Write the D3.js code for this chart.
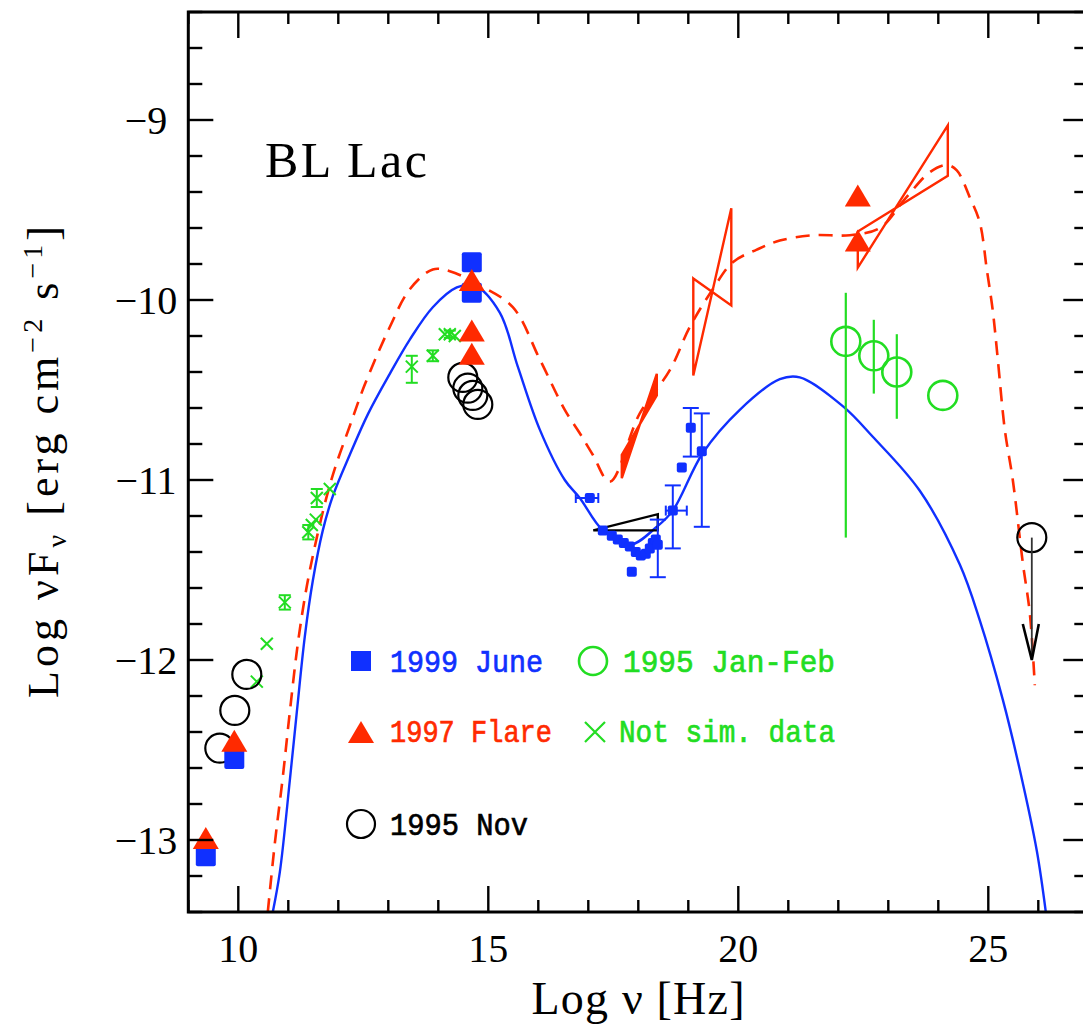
<!DOCTYPE html>
<html><head><meta charset="utf-8">
<script src="https://cdn.jsdelivr.net/npm/d3@7"></script>
<style>body{margin:0;background:#fff}</style>
</head><body>
<svg id="c" width="1083" height="1025"></svg>
<script>
// ---------- data ----------
const xDomain = [9, 27];
const yDomain = [-13.4, -8.4];
const xMajorTicks = [10, 15, 20, 25];
const xTickLabels = ["10", "15", "20", "25"];
const yMajorTicks = [-13, -12, -11, -10, -9];
const yTickLabels = ["\u221213", "\u221212", "\u221211", "\u221210", "\u22129"];

// model curves [log nu, log nuFnu]
const modelJune99 = [
  [10.69,-13.4],[10.83,-13.18],[11.03,-12.67],[11.17,-12.29],[11.33,-11.87],[11.49,-11.56],
  [11.69,-11.28],[11.89,-11.09],[12.23,-10.86],[12.6,-10.63],[13.03,-10.41],[13.43,-10.22],[13.89,-10.04],
  [14.37,-9.93],[14.73,-9.92],[15.23,-10.07],[15.59,-10.37],[16.03,-10.72],[16.53,-11.0],
  [16.83,-11.1],[17.29,-11.28],[17.83,-11.36],[18.37,-11.26],[18.69,-11.17],[19.29,-10.85],
  [20.03,-10.61],[20.83,-10.44],[21.23,-10.43],[22.09,-10.59],[22.69,-10.76],[23.63,-11.06],
  [24.43,-11.47],[24.83,-11.78],[25.29,-12.22],[25.63,-12.61],[25.97,-13.06],[26.15,-13.4]
];
const modelFlare97 = [
  [10.59,-13.4],[10.73,-13.02],[10.89,-12.65],[11.03,-12.29],[11.19,-11.91],[11.37,-11.59],
  [11.57,-11.32],[11.77,-11.09],[11.95,-10.92],[12.23,-10.7],[12.53,-10.47],[13.03,-10.15],
  [13.43,-9.94],[13.89,-9.83],[14.23,-9.84],[14.77,-9.91],[15.49,-10.04],[16.03,-10.33],
  [16.53,-10.61],[16.83,-10.74],[17.09,-10.86],[17.43,-11.01],[18.03,-10.63],[18.63,-10.39],
  [19.03,-10.15],[19.49,-9.94],[19.89,-9.79],[20.37,-9.72],[20.83,-9.67],[21.5,-9.64],
  [22.23,-9.64],[22.83,-9.6],[23.33,-9.44],[23.83,-9.29],[24.17,-9.25],[24.37,-9.28],
  [24.63,-9.43],[24.83,-9.57],[24.97,-9.83],[25.09,-10.06],[25.19,-10.33],[25.33,-10.72],
  [25.49,-11.0],[25.69,-11.46],[25.83,-11.74],[25.93,-12.14]
];

// 1999 June big points
const june99 = [[9.35,-13.09],[9.92,-12.55],[14.67,-9.79],[14.67,-9.96]];
// 1997 Flare
const flare97 = [[9.35,-13.0],[9.92,-12.46],[14.67,-9.9],[14.67,-10.18],[14.67,-10.31],[22.39,-9.43],[22.39,-9.68]];
// 1999 June X-ray points: [nu, f, xLo, xHi, yHi, yLo]
const june99Xray = [
  [17.03,-11.10,16.75,17.20,null,null],[17.29,-11.28,null,null,null,null],
  [17.47,-11.31,null,null,null,null],[17.59,-11.33,null,null,null,null],
  [17.71,-11.35,null,null,null,null],[17.83,-11.37,null,null,null,null],
  [17.95,-11.40,null,null,null,null],[18.05,-11.42,null,null,null,null],
  [18.15,-11.41,null,null,null,null],[18.23,-11.38,null,null,null,null],
  [18.29,-11.35,null,null,null,null],[18.35,-11.33,null,null,null,null],
  [18.39,-11.36,null,null,-11.22,-11.54],[17.87,-11.51,null,null,null,null],
  [18.69,-11.17,18.55,18.97,-11.03,-11.38],[18.87,-10.93,null,null,null,null],
  [19.05,-10.71,null,null,-10.60,-10.87],[19.27,-10.84,null,null,-10.63,-11.26]
];
// 1995 Nov
const nov95 = [[9.63,-12.49],[9.93,-12.28],[10.17,-12.08],[14.49,-10.43],[14.59,-10.49],[14.69,-10.53],[14.79,-10.58]];
const nov95Limit = [[25.87,-11.32,-12.0]];
// 1995 Jan-Feb: [nu, f, yHi, yLo]
const janFeb95 = [[22.15,-10.23,-9.96,-11.32],[22.71,-10.31,-10.11,-10.52],[23.17,-10.40,-10.19,-10.66],[24.09,-10.53,null,null]];
// Not simultaneous data: [nu, f, yHi, yLo]
const notSim = [
  [10.37,-12.12,null,null],[10.57,-11.91,null,null],[10.93,-11.68,-11.64,-11.72],
  [11.40,-11.29,-11.25,-11.33],[11.47,-11.25,null,null],[11.55,-11.22,null,null],
  [11.57,-11.10,-11.05,-11.15],[11.83,-11.05,null,null],[13.47,-10.37,-10.31,-10.46],
  [13.89,-10.31,-10.28,-10.34],[14.13,-10.19,null,null],[14.23,-10.19,-10.17,-10.21],[14.33,-10.20,null,null]
];
// bowties: [nu1, nu2, lineA at nu1, lineA at nu2, lineB at nu1, lineB at nu2]
const bowFlareOpt = [17.67, 18.37, -10.86, -10.53, -10.99, -10.41];
const bowFlareX = [19.10, 19.86, -9.88, -10.03, -10.42, -9.49];
const bowFlareGamma = [22.39, 24.19, -9.62, -9.31, -9.82, -9.03];
const bowNovX = [17.10, 18.39, -11.28, -11.19, -11.28, -11.28];

const legendLabels = ["1999 June", "1995 Jan-Feb", "1997 Flare", "Not sim. data", "1995 Nov"];

// ---------- drawing ----------
const BLUE = "#1030ff", RED = "#ff2a00", GREEN = "#22dd22";
const svg = d3.select("#c");
const x = d3.scaleLinear().domain(xDomain).range([188.3, 1088.3]);
const y = d3.scaleLinear().domain(yDomain).range([912, 12]);
const L = x(xDomain[0]), R = x(xDomain[1]), T = y(yDomain[1]), B = y(yDomain[0]);

svg.append("defs").append("clipPath").attr("id","clip")
  .append("rect").attr("x",L).attr("y",T).attr("width",R-L).attr("height",B-T);
const plot = svg.append("g").attr("clip-path","url(#clip)");

const line = d3.line().x(d=>x(d[0])).y(d=>y(d[1])).curve(d3.curveCatmullRom.alpha(0.5));

plot.append("path").attr("d", line(modelFlare97)).attr("fill","none")
  .attr("stroke",RED).attr("stroke-width",2.6).attr("stroke-dasharray","14,9");
plot.append("path").attr("d", line(modelJune99)).attr("fill","none")
  .attr("stroke",BLUE).attr("stroke-width",2.4);

function bowtie(b, color, fill){
  const pts = [[b[0],b[2]],[b[1],b[3]],[b[1],b[5]],[b[0],b[4]]];
  plot.append("path").attr("d", d3.line().x(d=>x(d[0])).y(d=>y(d[1]))(pts)+"Z")
    .attr("fill", fill ? color : "none").attr("stroke", color).attr("stroke-width", 2.4)
    .attr("stroke-linejoin","miter");
}
bowtie(bowFlareOpt, RED, true);
bowtie(bowFlareX, RED, false);
bowtie(bowFlareGamma, RED, false);
bowtie(bowNovX, "#000", false);

// 1999 June X-ray
const gx = plot.append("g");
june99Xray.forEach(d=>{
  const cx = x(d[0]), cy = y(d[1]);
  if (d[2]!==null){
    gx.append("line").attr("x1",x(d[2])).attr("x2",x(d[3])).attr("y1",cy).attr("y2",cy).attr("stroke",BLUE).attr("stroke-width",2);
    [d[2],d[3]].forEach(v=>gx.append("line").attr("x1",x(v)).attr("x2",x(v)).attr("y1",cy-5).attr("y2",cy+5).attr("stroke",BLUE).attr("stroke-width",2));
  }
  if (d[4]!==null){
    gx.append("line").attr("x1",cx).attr("x2",cx).attr("y1",y(d[4])).attr("y2",y(d[5])).attr("stroke",BLUE).attr("stroke-width",2);
    [d[4],d[5]].forEach(v=>gx.append("line").attr("x1",cx-8).attr("x2",cx+8).attr("y1",y(v)).attr("y2",y(v)).attr("stroke",BLUE).attr("stroke-width",2));
  }
  gx.append("rect").attr("x",cx-5).attr("y",cy-5).attr("width",10).attr("height",10).attr("rx",2).attr("fill",BLUE);
});

// Not simultaneous (green x)
function cross(g, cx, cy, s, color, w){
  g.append("path").attr("d",`M${cx-s},${cy-s}L${cx+s},${cy+s}M${cx-s},${cy+s}L${cx+s},${cy-s}`)
    .attr("stroke",color).attr("stroke-width",w).attr("fill","none");
}
const gn = plot.append("g");
notSim.forEach(d=>{
  const cx=x(d[0]), cy=y(d[1]);
  if (d[2]!==null){
    gn.append("line").attr("x1",cx).attr("x2",cx).attr("y1",y(d[2])).attr("y2",y(d[3])).attr("stroke",GREEN).attr("stroke-width",2);
    [d[2],d[3]].forEach(v=>gn.append("line").attr("x1",cx-6).attr("x2",cx+6).attr("y1",y(v)).attr("y2",y(v)).attr("stroke",GREEN).attr("stroke-width",2));
  }
  cross(gn, cx, cy, 6, GREEN, 2);
});

// Jan-Feb green circles
const gj = plot.append("g");
janFeb95.forEach(d=>{
  const cx=x(d[0]), cy=y(d[1]);
  if (d[2]!==null) gj.append("line").attr("x1",cx).attr("x2",cx).attr("y1",y(d[2])).attr("y2",y(d[3])).attr("stroke",GREEN).attr("stroke-width",2.2);
  gj.append("circle").attr("cx",cx).attr("cy",cy).attr("r",14.5).attr("fill","none").attr("stroke",GREEN).attr("stroke-width",2.6);
});

// 1995 Nov circles
const gv = plot.append("g");
nov95.forEach(d=>{
  gv.append("circle").attr("cx",x(d[0])).attr("cy",y(d[1])).attr("r",14.5).attr("fill","none").attr("stroke","#000").attr("stroke-width",2.2);
});
nov95Limit.forEach(d=>{
  const cx=x(d[0]);
  gv.append("circle").attr("cx",cx).attr("cy",y(d[1])).attr("r",14.5).attr("fill","none").attr("stroke","#000").attr("stroke-width",2.2);
  gv.append("line").attr("x1",cx).attr("x2",cx).attr("y1",y(d[1])).attr("y2",y(d[2])).attr("stroke","#333").attr("stroke-width",1.8);
  gv.append("path").attr("d",`M${cx-9},${y(d[2])-36}L${cx},${y(d[2])}L${cx+7},${y(d[2])-36}`)
    .attr("fill","none").attr("stroke","#000").attr("stroke-width",2.6);
});

// big squares & triangles
function tri(g, cx, cy, color){
  g.append("path").attr("d",`M${cx},${cy-13}L${cx+13},${cy+9}L${cx-13},${cy+9}Z`).attr("fill",color);
}
const gs = plot.append("g");
june99.forEach(d=>gs.append("rect").attr("x",x(d[0])-10).attr("y",y(d[1])-10).attr("width",20).attr("height",20).attr("rx",2).attr("fill",BLUE));
flare97.forEach(d=>tri(gs, x(d[0]), y(d[1]), RED));

// ---------- axes / frame ----------
const ax = svg.append("g").attr("stroke","#000");
ax.append("rect").attr("x",L).attr("y",T).attr("width",R-L).attr("height",B-T).attr("fill","none").attr("stroke-width",3);
d3.range(9, 27.01, 1).forEach(v=>{
  const major = xMajorTicks.includes(v);
  const len = major ? 26 : 12;
  ax.append("line").attr("x1",x(v)).attr("x2",x(v)).attr("y1",B).attr("y2",B-len).attr("stroke-width",2.4);
  ax.append("line").attr("x1",x(v)).attr("x2",x(v)).attr("y1",T).attr("y2",T+len).attr("stroke-width",2.4);
});
d3.range(0, 26).map(i=>-13.4+0.2*i).forEach(v=>{
  v = Math.round(v*10)/10;
  const major = yMajorTicks.includes(v);
  const len = major ? 25 : 14;
  ax.append("line").attr("x1",L).attr("x2",L+len).attr("y1",y(v)).attr("y2",y(v)).attr("stroke-width",2.4);
  ax.append("line").attr("x1",R).attr("x2",R-len).attr("y1",y(v)).attr("y2",y(v)).attr("stroke-width",2.4);
});

const serif = "'Liberation Serif', 'Times New Roman', serif";
const tl = svg.append("g").attr("font-family",serif).attr("fill","#000");
xMajorTicks.forEach((v,i)=>tl.append("text").attr("x",x(v)).attr("y",962).attr("text-anchor","middle").attr("font-size",40).text(xTickLabels[i]));
yMajorTicks.forEach((v,i)=>tl.append("text").attr("x",146).attr("y",y(v)+14).attr("text-anchor","middle").attr("font-size",40).text(yTickLabels[i]));

// axis titles
const xt = tl.append("text").attr("x",638).attr("y",1014).attr("text-anchor","middle").attr("font-size",46)
  .attr("textLength",213).attr("lengthAdjust","spacing");
xt.append("tspan").text("Log \u03bd [Hz]");

const yt = tl.append("text").attr("transform","translate(58,462) rotate(-90)").attr("text-anchor","middle").attr("font-size",44)
  .attr("textLength",472).attr("lengthAdjust","spacing");
yt.append("tspan").text("Log \u03bdF");
yt.append("tspan").attr("font-size",28).attr("dy",8).text("\u03bd");
yt.append("tspan").attr("dy",-8).text(" [erg cm");
yt.append("tspan").attr("font-size",28).attr("dy",-16).text("\u22122");
yt.append("tspan").attr("dy",16).text(" s");
yt.append("tspan").attr("font-size",28).attr("dy",-16).text("\u22121");
yt.append("tspan").attr("dy",16).text("]");

tl.append("text").attr("x",265).attr("y",177).attr("font-size",50).attr("textLength",162).attr("lengthAdjust","spacing").text("BL Lac");

// ---------- legend ----------
const mono = "'Liberation Mono', 'Courier New', monospace";
const lg = svg.append("g").attr("font-family",mono).attr("font-size",32);
function legText(xp, yp, color, len, txt){
  lg.append("text").attr("x",xp).attr("y",yp).attr("fill",color).attr("stroke",color).attr("stroke-width",0.7)
    .attr("textLength",len).attr("lengthAdjust","spacingAndGlyphs").text(txt);
}
lg.append("rect").attr("x",351).attr("y",651).attr("width",20).attr("height",20).attr("fill",BLUE);
legText(390, 672, BLUE, 153, legendLabels[0]);
lg.append("circle").attr("cx",593).attr("cy",661).attr("r",14).attr("fill","none").attr("stroke",GREEN).attr("stroke-width",2.6);
legText(623, 672, GREEN, 212, legendLabels[1]);
tri(lg, 361, 734, RED);
legText(390, 742, RED, 162, legendLabels[2]);
cross(lg, 595, 732, 10, GREEN, 2.2);
legText(619, 742, GREEN, 216, legendLabels[3]);
lg.append("circle").attr("cx",361).attr("cy",824).attr("r",14).attr("fill","none").attr("stroke","#000").attr("stroke-width",2.2);
legText(390, 835, "#000", 138, legendLabels[4]);
</script>
</body></html>
